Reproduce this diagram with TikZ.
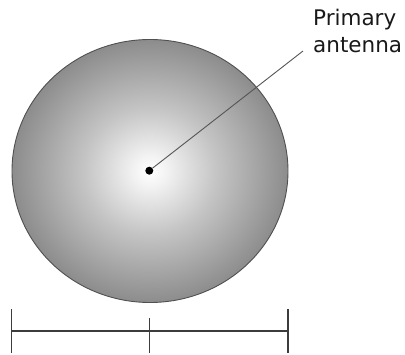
\documentclass[tikz,border=0pt]{standalone}
\usepackage{fontspec}
\setmainfont{DejaVu Sans}
\definecolor{DishLine}{RGB}{80, 80, 80}
\definecolor{BarGray}{RGB}{60, 60, 60}
\definecolor{LeaderGray}{RGB}{85, 85, 85}
\usepackage{tikz}
\usetikzlibrary{shapes.geometric, positioning, calc}
\pgfdeclareradialshading{dishshade}{\pgfpoint{0bp}{0bp}}{rgb(0bp)=(1,1,1); rgb(3bp)=(0.95,0.95,0.95); rgb(12bp)=(0.77,0.77,0.77); rgb(25bp)=(0.55,0.55,0.55); rgb(50bp)=(0.55,0.55,0.55)}

\begin{document}
\begin{tikzpicture}[x=1pt, y=-1pt,
    dish/.style={ellipse, draw=DishLine, line width=0.9pt, shading=dishshade, inner sep=0pt, outer sep=0pt},
    feedpt/.style={circle, fill=black, minimum size=8pt, inner sep=0pt},
    leader/.style={draw=LeaderGray, line width=0.9pt},
    bar/.style={draw=BarGray, line width=1.6pt},
    callout/.style={align=left, inner sep=0pt, font=\fontsize{21.5}{27}\selectfont, text=black!90}]
  \useasboundingbox (0,0) rectangle (405,355);

  % dish and feed
  \node[dish, minimum width=276pt, minimum height=263pt] (dish) at (150,171) {};
  \node[feedpt] (feed) at (149.3,170.7) {};

  % label
  \node[callout, anchor=north west] (label) at (313,9) {Primary\\antenna};
  \coordinate (tip) at (303,51);
  \draw[leader] (feed) -- (tip);

  % scale bar
  \coordinate (barL) at (11.5,331);
  \coordinate (barM) at (149.5,331);
  \coordinate (barR) at (288,331);
  \draw[bar] (barL) -- (barR);
  \draw[bar] ($(barL)+(0,-22)$) -- ($(barL)+(0,22)$);
  \draw[bar] ($(barR)+(0,-22)$) -- ($(barR)+(0,22)$);
  \draw[bar] ($(barM)+(0,-13)$) -- ($(barM)+(0,22)$);
\end{tikzpicture}
\end{document}
